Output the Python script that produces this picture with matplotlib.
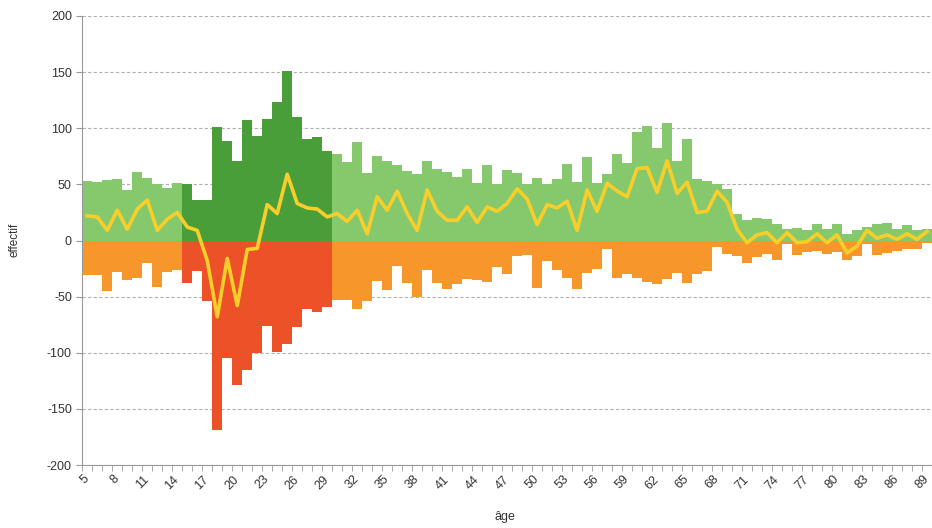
import numpy as np
import matplotlib.pyplot as plt

# effectifs par âge (entrées positives, sorties négatives)
ages = list(range(5, 90))
entrees = [53, 52, 54, 55, 45, 61, 56, 50, 47, 51,
           50, 36, 36, 101, 89, 71, 107, 93, 108, 123,
           151, 110, 90, 92, 80, 77, 70, 88, 60, 75,
           71, 67, 62, 59, 71, 64, 61, 57, 64, 51,
           67, 50, 63, 60, 50, 56, 50, 55, 68, 52,
           74, 51, 59, 77, 69, 97, 102, 82, 105, 71,
           90, 55, 53, 50, 46, 24, 18, 20, 19, 15,
           10, 11, 9, 15, 10, 15, 6, 9, 12, 15,
           16, 10, 14, 9, 10]
sorties = [-31, -31, -45, -28, -35, -33, -20, -41, -28, -26,
           -38, -27, -54, -169, -105, -129, -115, -100, -76, -99,
           -92, -77, -61, -64, -59, -53, -53, -61, -54, -36,
           -44, -23, -38, -50, -26, -38, -43, -39, -34, -35,
           -37, -24, -30, -14, -13, -42, -18, -26, -33, -43,
           -29, -25, -8, -33, -30, -33, -37, -39, -34, -29,
           -38, -30, -27, -6, -12, -14, -20, -15, -12, -17,
           -3, -13, -10, -9, -12, -10, -17, -14, -3, -13,
           -11, -9, -8, -8, -2]
age_min_hl, age_max_hl = 15, 29

plt.rcParams['font.family'] = ['Liberation Sans', 'DejaVu Sans']
plt.rcParams['axes.unicode_minus'] = False

x = np.arange(len(ages))
net = np.array(entrees) + np.array(sorties)
hl = (np.array(ages) >= age_min_hl) & (np.array(ages) <= age_max_hl)

fig = plt.figure(figsize=(9.32, 5.28), dpi=100, facecolor='w')
ax = fig.add_axes([82.3 / 932, 1 - 465 / 528, 1 - 82.3 / 932, 449 / 528])

ax.bar(x, entrees, width=1.0, color=np.where(hl, '#4a9e3a', '#86c86c'), linewidth=0, zorder=2)
ax.bar(x, sorties, width=1.0, color=np.where(hl, '#ec5128', '#f7962b'), linewidth=0, zorder=2)
ax.plot(x, net, color='#f8cf2a', lw=2.6, zorder=3, solid_joinstyle='round')

ax.set_xlim(-0.5, len(ages) - 0.5)
ax.set_ylim(-200, 200)
ax.set_yticks(range(-200, 201, 50))
ax.yaxis.grid(True, ls=(0, (3, 2)), color='#b0b0b0', lw=0.8)
ax.set_axisbelow(True)

ax.set_xticks(x[::3])
ax.set_xticklabels([str(a) for a in ages[::3]], rotation=45, ha='right', va='center',
                   rotation_mode='anchor')
ax.set_xticks(np.arange(-0.5, len(ages), 1), minor=True)
ax.tick_params(axis='x', which='major', length=0, pad=9, labelsize=9, labelcolor='#333333')
ax.tick_params(axis='x', which='minor', length=4, color='#999999')
ax.tick_params(axis='y', length=4, color='#999999', labelsize=9, labelcolor='#333333')

for s in ['top', 'right']:
    ax.spines[s].set_visible(False)
for s in ['left', 'bottom']:
    ax.spines[s].set_color('#999999')

fig.text(15 / 932, 1 - 240 / 528, 'effectif', rotation=90, ha='center', va='center', fontsize=8.5, color='#333333')
fig.text(505 / 932, 1 - 517 / 528, 'âge', ha='center', va='center', fontsize=9, color='#333333')

fig.savefig('out.png', dpi=100)
